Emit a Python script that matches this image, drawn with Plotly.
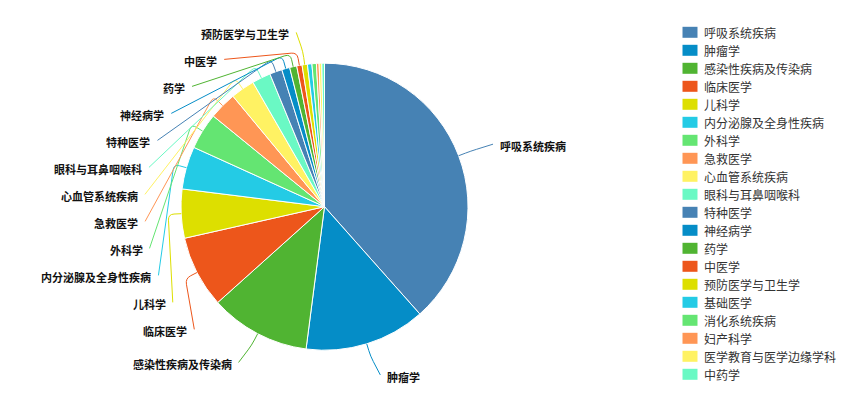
import math
import plotly.graph_objects as go

# ---- data -------------------------------------------------------------
categories = [
    "呼吸系统疾病", "肿瘤学", "感染性疾病及传染病", "临床医学", "儿科学",
    "内分泌腺及全身性疾病", "外科学", "急救医学", "心血管系统疾病", "眼科与耳鼻咽喉科",
    "特种医学", "神经病学", "药学", "中医学", "预防医学与卫生学",
    "基础医学", "消化系统疾病", "妇产科学", "医学教育与医学边缘学科", "中药学",
]
counts = [384, 136, 113, 81, 55, 48, 41, 31, 27, 21, 14, 9, 8, 6, 6, 5, 5, 3, 3, 3]
palette = ["#4682B4", "#058DC7", "#50B432", "#ED561B", "#DDDF00",
           "#24CBE5", "#64E572", "#FF9655", "#FFF263", "#6AF9C4"]

# ---- layout parameters (pixels) ----------------------------------------
W, H = 850, 419
CX, CY, R = 324.5, 206.7, 143.5      # pie centre and radius
LABEL_R = R + 32.5                    # radius on which labels sit
ELBOW = 13                            # first leg of the leader line
LEN2 = 4                              # horizontal leg before the text
TEXT_GAP = 5
ROW = 27                              # minimum vertical spacing of labels
MIN_LABEL_ANGLE = 2.0                 # degrees; thinner slices get no label
LEG_X, LEG_Y0, LEG_STEP = 682.5, 32.3, 18.0
LEG_W, LEG_H = 15, 11
FONT = "Noto Sans CJK SC, Noto Sans, sans-serif"

colors = [palette[i % len(palette)] for i in range(len(categories))]
total = float(sum(counts))

fig = go.Figure()
fig.add_trace(go.Pie(
    labels=categories, values=counts, sort=False, direction="clockwise",
    rotation=0, textinfo="none", showlegend=False, hoverinfo="label+value+percent",
    marker=dict(colors=colors, line=dict(color="#ffffff", width=1)),
    domain=dict(x=[(CX - R) / W, (CX + R) / W],
                y=[1 - (CY + R) / H, 1 - (CY - R) / H]),
))

# ---- outside labels with leader lines ----------------------------------
items = []
cum = 0.0
for i, v in enumerate(counts):
    span = v / total * 360.0
    mid = math.radians(cum + span / 2)
    cum += span
    if span < MIN_LABEL_ANGLE:
        continue
    sx, sy = math.sin(mid), -math.cos(mid)
    items.append(dict(
        i=i, dx=sx, dy=sy,
        side=1 if sx >= 0 else -1,
        y=CY + LABEL_R * sy,
    ))

# push overlapping labels downwards, one side at a time
for side in (1, -1):
    group = sorted([it for it in items if it["side"] == side], key=lambda it: it["y"])
    for k in range(1, len(group)):
        if group[k]["y"] < group[k - 1]["y"] + ROW:
            group[k]["y"] = group[k - 1]["y"] + ROW

shapes = []
annotations = []
for it in items:
    side = it["side"]
    ax, ay = CX + R * it["dx"], CY + R * it["dy"]
    bx, by = CX + (R + ELBOW) * it["dx"], CY + (R + ELBOW) * it["dy"]
    dyl = it["y"] - CY
    reach = math.sqrt(max(LABEL_R ** 2 - dyl ** 2, 0.0))
    cx_, cy_ = CX + side * (reach + LEN2), it["y"]
    l1 = math.hypot(ax - bx, ay - by)
    l2 = math.hypot(cx_ - bx, cy_ - by)
    m = min(l1, l2) * 0.45
    p0 = (bx + (ax - bx) * m / l1, by + (ay - by) * m / l1)
    p2 = (bx + (cx_ - bx) * m / l2, by + (cy_ - by) * m / l2)
    path = (f"M {ax:.2f},{ay:.2f} L {p0[0]:.2f},{p0[1]:.2f} "
            f"Q {bx:.2f},{by:.2f} {p2[0]:.2f},{p2[1]:.2f} L {cx_:.2f},{cy_:.2f}")
    shapes.append(dict(type="path", path=path, xref="x", yref="y",
                       line=dict(color=colors[it["i"]], width=1)))
    annotations.append(dict(
        x=cx_ + side * TEXT_GAP, y=cy_ + 2, xref="x", yref="y",
        text=categories[it["i"]], showarrow=False,
        xanchor="left" if side > 0 else "right", yanchor="middle",
        font=dict(family=FONT, size=11, color="#111111", weight="bold"),
    ))

# ---- legend --------------------------------------------------------------
for i, name in enumerate(categories):
    yc = LEG_Y0 + LEG_STEP * i
    shapes.append(dict(type="rect", xref="x", yref="y",
                       x0=LEG_X, x1=LEG_X + LEG_W, y0=yc - LEG_H / 2, y1=yc + LEG_H / 2,
                       fillcolor=colors[i], line=dict(width=0)))
    annotations.append(dict(
        x=LEG_X + LEG_W + 4, y=yc, xref="x", yref="y", text=name, showarrow=False,
        xanchor="left", yanchor="middle",
        font=dict(family=FONT, size=12, color="#333333"),
    ))

fig.update_layout(
    width=W, height=H, margin=dict(l=0, r=0, t=0, b=0),
    paper_bgcolor="#ffffff", plot_bgcolor="rgba(0,0,0,0)",
    xaxis=dict(range=[0, W], visible=False, fixedrange=True, domain=[0, 1]),
    yaxis=dict(range=[H, 0], visible=False, fixedrange=True, domain=[0, 1]),
    shapes=shapes, annotations=annotations,
)

fig.write_html("out.html")
